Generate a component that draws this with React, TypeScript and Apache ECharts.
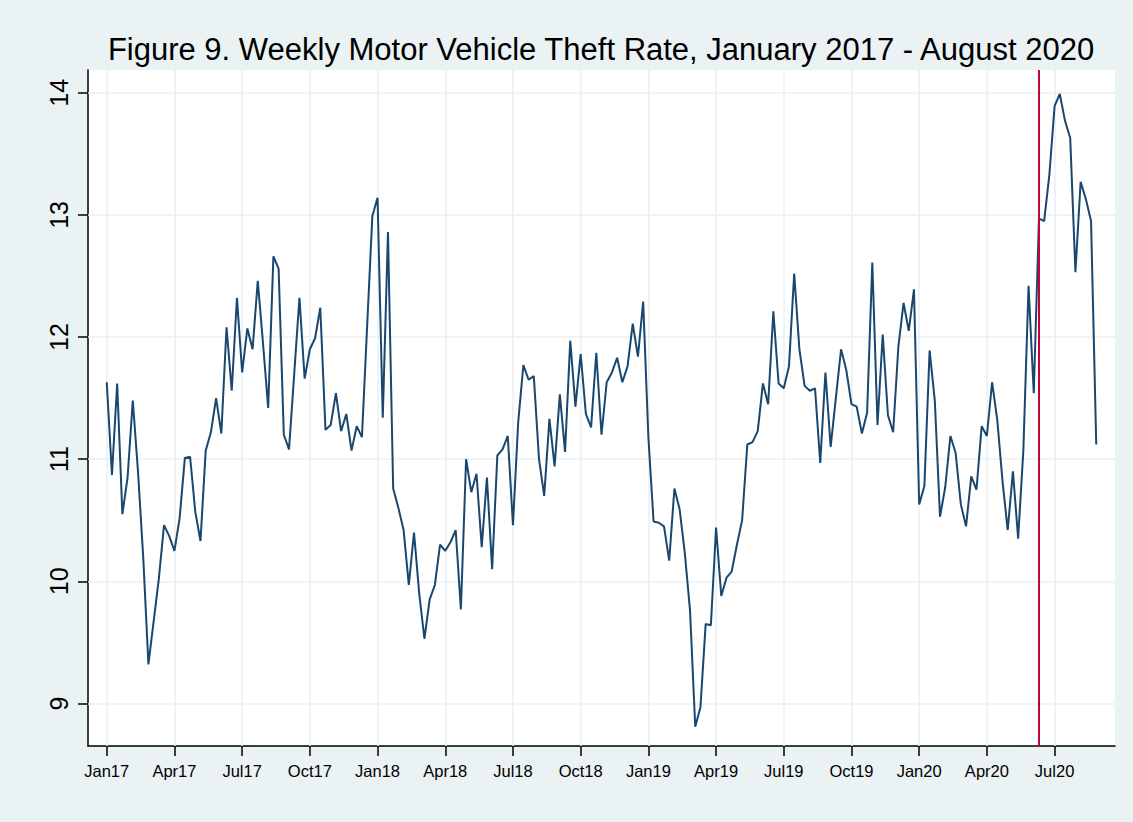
import React, { useEffect, useRef } from "react";
import * as echarts from "echarts";

const chartTitle = "Figure 9. Weekly Motor Vehicle Theft Rate, January 2017 - August 2020";

// Weekly motor vehicle theft rate, week 0 = first week of January 2017
const theftRate = [
  11.63, 10.87, 11.62, 10.55, 10.85, 11.48, 10.90, 10.20, 9.32, 9.67,
  10.02, 10.46, 10.37, 10.25, 10.52, 11.01, 11.02, 10.57, 10.33, 11.07,
  11.22, 11.50, 11.21, 12.08, 11.56, 12.32, 11.71, 12.07, 11.90, 12.46,
  11.95, 11.42, 12.66, 12.56, 11.20, 11.08, 11.70, 12.32, 11.66, 11.90,
  11.99, 12.24, 11.24, 11.28, 11.54, 11.23, 11.37, 11.07, 11.27, 11.18,
  12.09, 12.99, 13.14, 11.34, 12.86, 10.76, 10.60, 10.42, 9.97, 10.40,
  9.90, 9.53, 9.85, 9.97, 10.30, 10.25, 10.32, 10.42, 9.77, 11.00,
  10.73, 10.88, 10.28, 10.85, 10.10, 11.03, 11.08, 11.19, 10.46, 11.30,
  11.77, 11.65, 11.68, 11.00, 10.70, 11.33, 10.94, 11.53, 11.06, 11.97,
  11.43, 11.86, 11.37, 11.26, 11.87, 11.20, 11.63, 11.71, 11.83, 11.63,
  11.76, 12.11, 11.84, 12.29, 11.18, 10.49, 10.48, 10.45, 10.17, 10.76,
  10.59, 10.23, 9.76, 8.81, 8.97, 9.65, 9.64, 10.44, 9.88, 10.03,
  10.08, 10.30, 10.50, 11.12, 11.14, 11.23, 11.62, 11.45, 12.21, 11.62,
  11.58, 11.76, 12.52, 11.90, 11.60, 11.56, 11.58, 10.97, 11.71, 11.10,
  11.50, 11.90, 11.73, 11.45, 11.43, 11.21, 11.38, 12.61, 11.28, 12.02,
  11.36, 11.22, 11.92, 12.28, 12.05, 12.39, 10.63, 10.78, 11.89, 11.48,
  10.53, 10.77, 11.19, 11.05, 10.63, 10.45, 10.86, 10.75, 11.27, 11.19,
  11.63, 11.32, 10.82, 10.42, 10.90, 10.35, 11.07, 12.42, 11.54, 12.97,
  12.95, 13.33, 13.89, 13.99, 13.77, 13.63, 12.53, 13.27, 13.13, 12.95,
  11.12,
];

const tickWeeks = [0, 13, 26, 39, 52, 65, 78, 91, 104, 117, 130, 143, 156, 169, 182];
const tickLabels = [
  "Jan17", "Apr17", "Jul17", "Oct17", "Jan18", "Apr18", "Jul18", "Oct18",
  "Jan19", "Apr19", "Jul19", "Oct19", "Jan20", "Apr20", "Jul20",
];
const yTicks = [9, 10, 11, 12, 13, 14];
const eventWeek = 179;

export default function App() {
  const ref = useRef<HTMLDivElement>(null);
  useEffect(() => {
    if (!ref.current) return;
    const chart = echarts.init(ref.current, null, { renderer: "svg" });
    const font = "'Liberation Sans', Arial, Helvetica, sans-serif";
    const gridColor = "#eaf2f3";
    chart.setOption({
      animation: false,
      backgroundColor: "#eaf2f3",
      graphic: [
        {
          type: "text",
          x: 601,
          y: 49,
          style: {
            text: chartTitle,
            font: `31px ${font}`,
            fill: "#000",
            textAlign: "center",
            textVerticalAlign: "middle",
          },
        },
      ],
      grid: {
        left: 88,
        top: 70,
        width: 1027,
        height: 676,
        show: true,
        backgroundColor: "#ffffff",
        borderWidth: 0,
      },
      xAxis: {
        type: "value",
        min: -3.6,
        max: 193.6,
        axisLine: { show: true, onZero: false, lineStyle: { color: "#000", width: 1.5 } },
        axisTick: {
          show: true,
          length: 10,
          customValues: tickWeeks,
          lineStyle: { color: "#000", width: 1.5 },
        },
        axisLabel: {
          customValues: tickWeeks,
          formatter: (v: number) => {
            const i = tickWeeks.indexOf(Math.round(v));
            return i >= 0 ? tickLabels[i] : "";
          },
          fontSize: 16.5,
          fontFamily: font,
          color: "#000",
          margin: 16,
        },
        splitLine: { show: false },
      },
      yAxis: {
        type: "value",
        min: 8.652,
        max: 14.186,
        axisLine: { show: true, onZero: false, lineStyle: { color: "#000", width: 1.5 } },
        axisTick: {
          show: true,
          length: 10,
          customValues: yTicks,
          lineStyle: { color: "#000", width: 1.5 },
        },
        axisLabel: {
          customValues: yTicks,
          formatter: (v: number) => String(Math.round(v)),
          rotate: 90,
          fontSize: 25,
          fontFamily: font,
          color: "#000",
          margin: 17,
        },
        splitLine: { show: false },
      },
      series: [
        {
          type: "line",
          data: [[0, theftRate[0]]],
          symbol: "none",
          lineStyle: { opacity: 0 },
          silent: true,
          z: 1,
          markLine: {
            silent: true,
            z: 1,
            symbol: ["none", "none"],
            label: { show: false },
            lineStyle: { color: gridColor, width: 1.6, type: "solid" },
            emphasis: { disabled: true },
            data: [
              ...tickWeeks.map((w) => ({ xAxis: w })),
              ...yTicks.map((v) => ({ yAxis: v })),
            ],
          },
        },
        {
          type: "line",
          data: theftRate.map((v, i) => [i, v]),
          symbol: "none",
          showSymbol: false,
          lineStyle: { color: "#1a476f", width: 2 },
          z: 3,
          markLine: {
            silent: true,
            symbol: ["none", "none"],
            label: { show: false },
            lineStyle: { color: "#c10534", width: 2, type: "solid" },
            emphasis: { disabled: true },
            data: [{ xAxis: eventWeek }],
          },
        },
      ],
    });
    return () => chart.dispose();
  }, []);
  return (
    <div
      ref={ref}
      style={{ position: "fixed", left: 0, top: 0, width: 1133, height: 822 }}
    />
  );
}
